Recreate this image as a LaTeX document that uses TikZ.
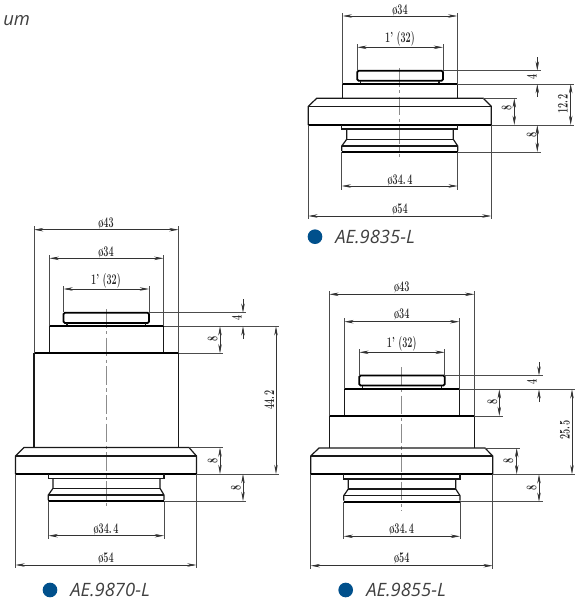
\documentclass[tikz,border=0pt]{standalone}
\usepackage{amsmath,amssymb,amsfonts}
\usepackage{fontspec}
\newfontfamily\capfont{Open Sans}
\usetikzlibrary{arrows.meta}
\newcommand{\cadtext}[1]{\scalebox{.62}[1]{#1}}

\begin{document}
\begin{tikzpicture}[x=0.75pt,y=0.75pt,yscale=-1,xscale=1,
  outline/.style={line width=0.9pt,black!90},
  heavy/.style={line width=1.3pt,black},
  extline/.style={line width=0.45pt,black!70},
  dimline/.style={line width=0.45pt,black!80,{Stealth[length=7pt,width=2.6pt]}-{Stealth[length=7pt,width=2.6pt]}},
  dimout/.style={line width=0.45pt,black!80,-{Stealth[length=7pt,width=2.6pt]}},
  axisline/.style={line width=0.6pt,black!45,dash pattern=on 14pt off 2.5pt on 2.5pt off 2.5pt},
  dimlabel/.style={inner sep=0pt,font=\fontsize{11}{11}\selectfont\bfseries,text=black!85},
  sidelabel/.style={dimlabel,rotate=90},
  partlabel/.style={anchor=west,inner sep=0pt,font=\capfont\itshape\fontsize{13.8}{14}\selectfont,text=black!75},
  partdot/.style={circle,inner sep=0pt,minimum size=11pt,fill={rgb, 255:red, 0; green, 80; blue, 140}}]
\useasboundingbox (0,0) rectangle (581,608);

% Text Node
\draw (3,21) node [partlabel] (cutword) {um};

%Part AE.9870-L
%Shape: cap and bodies
\draw [axisline] (106,309) -- (106,507);
\draw [heavy,rounded corners=1pt] (63.5,312.7) -- (149,312.7) -- (149,323) -- (63.5,323) -- cycle;
\draw [outline] (67,323) -- (67,326.3) (145.7,323) -- (145.7,326.3);
\draw [outline] (49.5,353.3) -- (49.5,326.3) (163.5,326.3) -- (163.5,353.3);
\draw [heavy] (49.5,326.3) -- (163.5,326.3);
\draw [heavy] (34,353.3) -- (178.5,353.3);
\draw [outline] (34,353.3) -- (34,447.5) (178.5,353.3) -- (178.5,447.5);
%Shape: flange
\draw [outline] (15.5,474) -- (15.5,456) -- (24,447.5) -- (189,447.5) -- (196.5,456) -- (196.5,474);
\draw [outline] (15.5,456) -- (196.5,456);
\draw [heavy] (15.5,474) -- (196.5,474);
%Shape: mount
\draw [outline] (48.3,474) -- (48.3,478.3) -- (164,478.3) -- (164,474);
\draw [outline] (53,478.3) -- (53,488.3) -- (48.3,495) -- (48.3,500) (160,478.3) -- (160,488.3) -- (164,495) -- (164,500);
\draw [outline] (53,488.3) -- (160,488.3) (48.3,495) -- (164,495);
\draw [heavy] (48.3,501) -- (164,501);
%Straight Lines: extensions
\draw [extline] (34,226) -- (34,353) (178.5,226) -- (178.5,353);
\draw [extline] (49.5,255) -- (49.5,326) (163.5,255) -- (163.5,326);
\draw [extline] (63.5,286) -- (63.5,312) (149,286) -- (149,312);
\draw [extline] (149,312.7) -- (246,312.7) (163.5,326.3) -- (279,326.3);
\draw [extline] (178.5,353.3) -- (223,353.3) (189,447.5) -- (223,447.5);
\draw [extline] (196.5,474) -- (279,474) (164,501) -- (246,501);
\draw [extline] (48.5,501) -- (48.5,539) (164,501) -- (164,539);
\draw [extline] (15.5,474) -- (15.5,568) (196.5,474) -- (196.5,568);
%Straight Lines: dimensions
\draw [dimline] (34,229.7) -- (178.5,229.7);
\draw [dimline] (49.5,258.3) -- (163.5,258.3);
\draw [dimline] (63.5,289) -- (149,289);
\draw [dimout] (243,299) -- (243,312.7);
\draw [dimout] (243,339) -- (243,326.3);
\draw [dimline] (220,326.3) -- (220,353.3);
\draw [dimline] (276,326.3) -- (276,474);
\draw [dimline] (220,447.5) -- (220,474);
\draw [dimline] (243,474) -- (243,501);
\draw [dimline] (48.5,535.7) -- (164,535.7);
\draw [dimline] (15.5,565) -- (196.5,565);
% Text Node
\draw (106,223.3) node [dimlabel] (la43) {\cadtext{ø43}};
\draw (106,252) node [dimlabel] (la34) {\cadtext{ø34}};
\draw (106,281) node [dimlabel] (la32) {\cadtext{1' (32)}};
\draw (236.7,318.3) node [sidelabel] (la4) {\cadtext{4}};
\draw (212.7,339.3) node [sidelabel] (la8a) {\cadtext{8}};
\draw (269.3,400) node [sidelabel] (la442) {\cadtext{44.\,2}};
\draw (212.7,460.7) node [sidelabel] (la8b) {\cadtext{8}};
\draw (236,487.7) node [sidelabel] (la8c) {\cadtext{8}};
\draw (106,529) node [dimlabel] (la344) {\cadtext{ø34.\,4}};
\draw (106,558.3) node [dimlabel] (la54) {\cadtext{ø54}};
\draw (50,590) node [partdot] (dota) {};
\draw (70,590) node [partlabel] (parta) {AE.9870-L};

%Part AE.9835-L
%Shape: cap and body
\draw [axisline] (399.7,68) -- (399.7,157);
\draw [heavy,rounded corners=1pt] (357.3,70.7) -- (443,70.7) -- (443,80.7) -- (357.3,80.7) -- cycle;
\draw [outline] (360.7,80.7) -- (360.7,84) (439,80.7) -- (439,84);
\draw [outline] (342.7,98.3) -- (342.7,84) (457.3,84) -- (457.3,98.3);
\draw [heavy] (342.7,84) -- (457.3,84);
%Shape: flange
\draw [outline] (308.3,125) -- (308.3,106.3) -- (316.7,98.3) -- (483.3,98.3) -- (491.3,106.3) -- (491.3,125);
\draw [outline] (308.3,106.3) -- (491.3,106.3);
\draw [heavy] (308.3,125) -- (491.3,125);
%Shape: mount
\draw [outline] (341.7,125) -- (341.7,129) -- (457.7,129) -- (457.7,125);
\draw [outline] (346.7,129) -- (346.7,139.3) -- (341.7,146) -- (341.7,151) (453.3,129) -- (453.3,139.3) -- (457.7,146) -- (457.7,151);
\draw [outline] (346.7,139.3) -- (453.3,139.3) (341.7,146) -- (457.7,146);
\draw [heavy] (341.7,152) -- (457.7,152);
%Straight Lines: extensions
\draw [extline] (342.7,13) -- (342.7,84) (457.3,13) -- (457.3,84);
\draw [extline] (357.3,44) -- (357.3,71) (443,44) -- (443,71);
\draw [extline] (443,70.7) -- (540.5,70.7) (457.3,84) -- (574,84);
\draw [extline] (483.3,98.3) -- (517,98.3) (491.3,125) -- (574,125);
\draw [extline] (457.7,152) -- (540.5,152);
\draw [extline] (341.7,152) -- (341.7,190) (457.7,152) -- (457.7,190);
\draw [extline] (308.3,125) -- (308.3,219) (491.3,125) -- (491.3,219);
%Straight Lines: dimensions
\draw [dimline] (342.7,16) -- (457.3,16);
\draw [dimline] (357.3,47.3) -- (443,47.3);
\draw [dimout] (537.3,57) -- (537.3,70.7);
\draw [dimout] (537.3,97) -- (537.3,84);
\draw [dimline] (570.7,84) -- (570.7,125);
\draw [dimline] (514.3,98.3) -- (514.3,125);
\draw [dimline] (537.3,125) -- (537.3,152);
\draw [dimline] (341.7,186) -- (457.7,186);
\draw [dimline] (308.3,216) -- (491.3,216);
% Text Node
\draw (400,10) node [dimlabel] (lb34) {\cadtext{ø34}};
\draw (400,39.3) node [dimlabel] (lb32) {\cadtext{1' (32)}};
\draw (531.7,76.7) node [sidelabel] (lb4) {\cadtext{4}};
\draw (562.7,104) node [sidelabel] (lb122) {\cadtext{12.\,2}};
\draw (506.7,108) node [sidelabel] (lb8a) {\cadtext{8}};
\draw (531.7,135) node [sidelabel] (lb8b) {\cadtext{8}};
\draw (400,180) node [dimlabel] (lb344) {\cadtext{ø34.\,4}};
\draw (400,209.3) node [dimlabel] (lb54) {\cadtext{ø54}};
\draw (315,236.7) node [partdot] (dotb) {};
\draw (335,237) node [partlabel] (partb) {AE.9835-L};

%Part AE.9855-L
%Shape: cap and bodies
\draw [axisline] (401.7,367) -- (401.7,510.7);
\draw [heavy,rounded corners=1pt] (359.3,375.5) -- (444.7,375.5) -- (444.7,385.5) -- (359.3,385.5) -- cycle;
\draw [outline] (362.7,385.5) -- (362.7,389.3) (441.7,385.5) -- (441.7,389.3);
\draw [outline] (344.3,416) -- (344.3,389.3) (459.3,389.3) -- (459.3,416);
\draw [heavy] (344.3,389.3) -- (459.3,389.3);
\draw [heavy] (329.3,416) -- (474.3,416);
\draw [outline] (329.3,416) -- (329.3,448) (474.3,416) -- (474.3,448);
%Shape: flange
\draw [outline] (310.7,474.3) -- (310.7,456) -- (319,448) -- (485,448) -- (492.7,456) -- (492.7,474.3);
\draw [outline] (310.7,456) -- (492.7,456);
\draw [heavy] (310.7,474.3) -- (492.7,474.3);
%Shape: mount
\draw [outline] (343.7,474.3) -- (343.7,479) -- (460,479) -- (460,474.3);
\draw [outline] (348.3,479) -- (348.3,489) -- (343.7,495.7) -- (343.7,500.7) (455.7,479) -- (455.7,489) -- (460,495.7) -- (460,500.7);
\draw [outline] (348.3,489) -- (455.7,489) (343.7,495.7) -- (460,495.7);
\draw [heavy] (343.7,501.7) -- (460,501.7);
%Straight Lines: extensions
\draw [extline] (329.3,291) -- (329.3,416) (474.3,291) -- (474.3,416);
\draw [extline] (344.3,318) -- (344.3,389) (459.3,318) -- (459.3,389);
\draw [extline] (359.3,349) -- (359.3,375.5) (444.7,349) -- (444.7,375.5);
\draw [extline] (444.7,375.5) -- (543,375.5) (459.3,389.3) -- (575,389.3);
\draw [extline] (474.3,416) -- (503,416) (485,448) -- (520,448);
\draw [extline] (492.7,474.3) -- (575,474.3) (460,501.7) -- (543,501.7);
\draw [extline] (343.7,501.7) -- (343.7,539) (460,501.7) -- (460,539);
\draw [extline] (310.7,474.3) -- (310.7,569) (492.7,474.3) -- (492.7,569);
%Straight Lines: dimensions
\draw [dimline] (329.3,294.3) -- (474.3,294.3);
\draw [dimline] (344.3,321.7) -- (459.3,321.7);
\draw [dimline] (359.3,352.3) -- (444.7,352.3);
\draw [dimout] (539,362) -- (539,375.5);
\draw [dimout] (539,402) -- (539,389.3);
\draw [dimline] (499.3,389.3) -- (499.3,416);
\draw [dimline] (572,389.3) -- (572,474.3);
\draw [dimline] (516.7,448) -- (516.7,474.3);
\draw [dimline] (539,474.3) -- (539,501.7);
\draw [dimline] (343.7,536.3) -- (460,536.3);
\draw [dimline] (310.7,565.7) -- (492.7,565.7);
% Text Node
\draw (401.7,287.7) node [dimlabel] (lc43) {\cadtext{ø43}};
\draw (401.7,314.3) node [dimlabel] (lc34) {\cadtext{ø34}};
\draw (401.7,344) node [dimlabel] (lc32) {\cadtext{1' (32)}};
\draw (531.7,381.7) node [sidelabel] (lc4) {\cadtext{4}};
\draw (492.3,402.3) node [sidelabel] (lc8a) {\cadtext{8}};
\draw (565,430) node [sidelabel] (lc255) {\cadtext{25.\,5}};
\draw (508.3,460.7) node [sidelabel] (lc8b) {\cadtext{8}};
\draw (531.7,488.3) node [sidelabel] (lc8c) {\cadtext{8}};
\draw (401.7,529) node [dimlabel] (lc344) {\cadtext{ø34.\,4}};
\draw (401.7,558.3) node [dimlabel] (lc54) {\cadtext{ø54}};
\draw (345.7,590) node [partdot] (dotc) {};
\draw (366,590) node [partlabel] (partc) {AE.9855-L};

\end{tikzpicture}
\end{document}
